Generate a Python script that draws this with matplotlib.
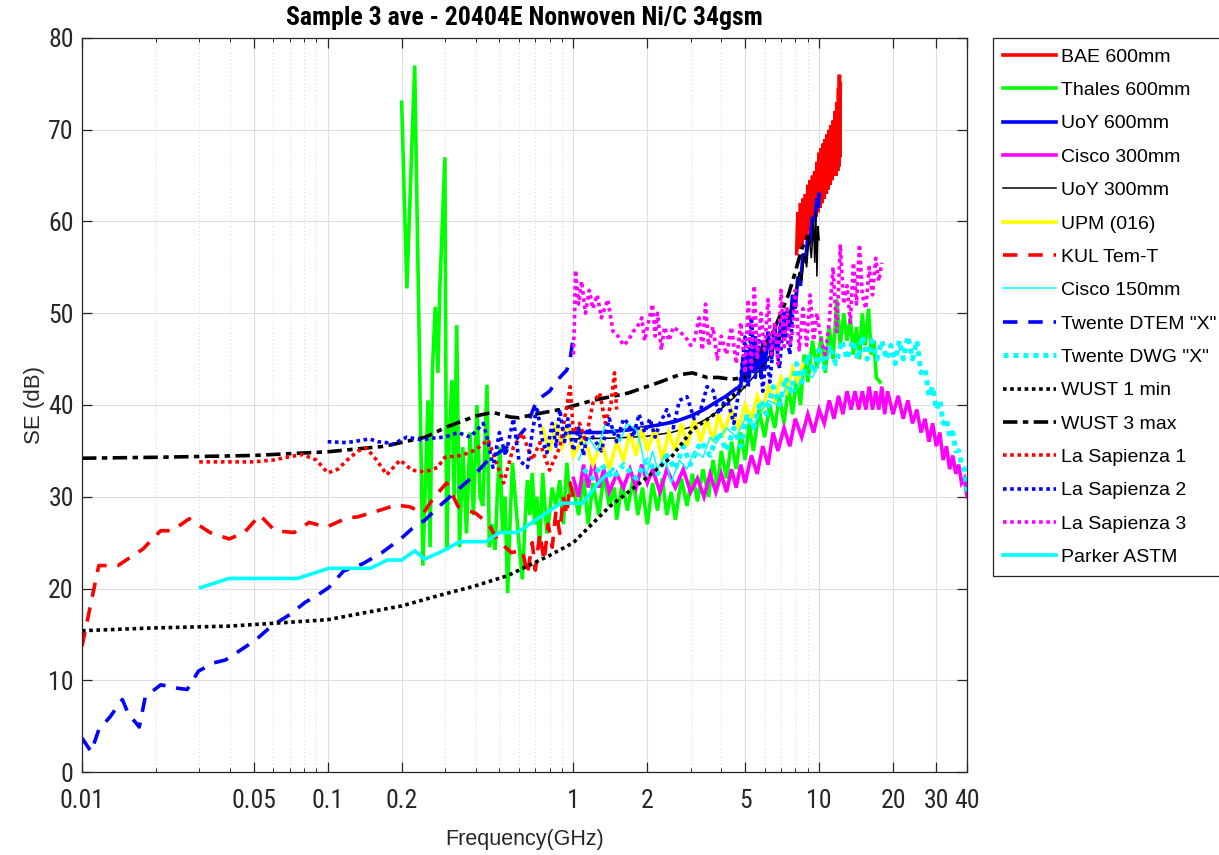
import matplotlib
matplotlib.use("Agg")
import matplotlib.pyplot as plt
from matplotlib.ticker import FixedLocator, FixedFormatter, NullFormatter

# ---- data (frequency in GHz, SE in dB) ----
bae_f = [8.1, 8.2, 8.3, 8.4, 8.5, 8.6, 8.7, 8.8, 8.9, 9.0, 9.1, 9.2, 9.3, 9.4, 9.5, 9.6,
         9.7, 9.8, 9.9, 10.0, 10.1, 10.2, 10.3, 10.4, 10.5, 10.6, 10.7, 10.8, 10.9, 11.0,
         11.1, 11.2, 11.3, 11.4, 11.5, 11.6, 11.7, 11.8, 11.9, 12.0, 12.05, 12.1, 12.15, 12.2]
bae_se = [56.5, 61, 57, 62, 57.5, 62.5, 58, 63, 58.5, 64, 59, 64.5, 59.5, 65, 60, 65.5,
          60.5, 66.5, 61, 67.5, 61.5, 68, 62, 68.5, 62.5, 69, 63, 69.5, 63.5, 70,
          64, 70.5, 64.5, 71, 65, 72, 65, 73, 65.5, 74.5, 66, 76, 67, 75]

thales_f = [0.200, 0.210, 0.226, 0.244, 0.256, 0.261, 0.267, 0.274, 0.281, 0.286, 0.300,
            0.305, 0.312, 0.320, 0.327, 0.335, 0.344, 0.355, 0.367, 0.380, 0.392, 0.405,
            0.417, 0.428, 0.445, 0.455, 0.466, 0.480, 0.490, 0.502, 0.515, 0.527, 0.540,
            0.552, 0.565, 0.587, 0.605, 0.620, 0.635, 0.650, 0.665, 0.680, 0.695, 0.710,
            0.730, 0.750, 0.780, 0.800, 0.820, 0.850, 0.880, 0.910, 0.940, 0.970, 1.00,
            1.05, 1.1, 1.15, 1.2, 1.27, 1.33, 1.4, 1.47, 1.5, 1.58, 1.66, 1.75, 1.83, 1.91,
            2.0, 2.1, 2.2, 2.3, 2.4, 2.5, 2.6, 2.75, 2.9, 3.05, 3.2, 3.37, 3.55, 3.7, 3.85,
            4.0, 4.2, 4.4, 4.6, 4.8, 5.0, 5.2, 5.4, 5.7, 6.0, 6.3, 6.6, 6.9, 7.2, 7.5, 7.8,
            8.1, 8.4, 8.7, 9.0, 9.4, 9.8, 10.2, 10.6, 11.0, 11.4, 11.8, 12.2, 12.6, 13.0,
            13.4, 13.8, 14.2, 14.6, 15.0, 15.4, 15.9, 16.3, 16.7, 17.1, 17.7]
thales_se = [73, 52.7, 77, 22.5, 40.5, 24.5, 44, 50.7, 43.5, 52.7, 67,
             24.2, 36, 42.7, 30, 48.7, 24.5, 35.4, 26, 37, 28, 40,
             30, 29, 42.2, 24.5, 27, 24.2, 30, 35.4, 26, 30, 19.5,
             27, 33.7, 28.2, 24, 21, 27, 31.8, 28, 32.6, 27, 30,
             24.5, 32.6, 26, 28.2, 31, 29, 31.8, 27, 33.7, 30, 31,
             28, 32, 27, 31.5, 28, 32.5, 29, 31, 27.5, 31.5, 28.5, 32, 28, 31,
             27, 31.5, 28.5, 32, 28, 30.5, 27.5, 32, 29, 32.5, 29.5, 33, 30, 34, 31,
             35, 32, 36, 33, 37, 34, 38, 35, 39.5, 36.5, 40, 37.5, 41, 38, 42, 39,
             43, 40, 45.5, 42.5, 47, 44, 47.5, 43.5, 48.5, 45, 51.5, 46.5, 50, 47,
             49.5, 45.5, 48.5, 45, 50, 46.5, 50.5, 45.5, 47, 43, 42.5]

uoy600_f = [1.0, 1.3, 1.7, 2.2, 2.6, 3.0, 3.4, 3.8, 4.2, 4.6, 4.8, 4.9, 5.0, 5.1, 5.2,
            5.3, 5.4, 5.5, 5.6, 5.7, 5.8, 5.9, 6.0, 6.2, 6.4, 6.6, 6.8, 7.0, 7.2, 7.4,
            7.6, 7.8, 8.0, 8.2, 8.4, 8.6, 8.8, 9.0, 9.2, 9.4, 9.6, 9.8, 9.9, 10.0]
uoy600_se = [37, 37, 37.3, 37.8, 38.2, 38.8, 39.5, 40.3, 41, 41.8, 42, 45, 42.5, 46, 43,
             47, 43.5, 47.5, 44, 46, 43, 47, 44, 48, 45, 48.5, 46, 49, 47, 50.5,
             48.5, 52, 50.5, 54, 53, 56.5, 55.5, 58.5, 58, 60.5, 60, 62.5, 61.5, 63]

cisco300_f = [1.0, 1.05, 1.1, 1.15, 1.2, 1.27, 1.33, 1.4, 1.5, 1.6, 1.7, 1.8, 1.9, 2.0,
              2.1, 2.25, 2.4, 2.6, 2.8, 3.0, 3.2, 3.4, 3.6, 3.8, 4.0, 4.2, 4.4, 4.6, 4.8,
              5.0, 5.3, 5.6, 5.9, 6.2, 6.5, 6.8, 7.2, 7.6, 8.0, 8.5, 9.0, 9.5, 10.0, 10.5,
              11, 11.5, 12, 12.5, 13, 13.5, 14, 14.5, 15, 15.5, 16, 16.5, 17, 17.5, 18,
              18.5, 19, 20, 21, 22, 23, 24, 25, 26, 27, 28, 29, 30, 31, 32, 33, 34, 35,
              36, 37, 38, 39, 40]
cisco300_se = [32, 30, 33.5, 31, 34, 31, 33, 30.5, 32.5, 31, 33, 31, 33.5, 31.5,
               33, 30.5, 33, 31, 33, 30.5, 32, 30, 32.5, 30.5, 32.5, 30.5, 33, 31, 33.5,
               31.5, 34.5, 32.5, 35.5, 33.5, 37, 35, 37.5, 35.5, 38.5, 36.5, 39, 37, 39.5, 38,
               40.5, 38.5, 41, 39, 41.5, 39.5, 41.5, 39.5, 41.5, 39.5, 42, 39.5, 41.5, 39.5, 42,
               39, 41.5, 39, 41, 38.5, 40.5, 38, 39.5, 37, 38.5, 36, 38, 35.5, 37, 34, 35.5, 33, 34.5,
               32.5, 33.5, 31.5, 32, 30]

uoy300_f = [1.0, 1.5, 2.0, 2.5, 3.0, 3.5, 4.0, 4.5, 5.0, 5.5, 6.0, 6.5, 7.0, 7.5, 8.0,
            8.3, 8.5, 8.7, 8.9, 9.1, 9.3, 9.5, 9.6, 9.7, 9.8, 9.9, 10.0]
uoy300_se = [36.3, 36.4, 36.6, 37.0, 37.6, 38.5, 39.6, 40.8, 42, 43.3, 44.5, 46, 47.5, 49.5, 52,
             54.5, 53.5, 56.5, 55, 58.5, 56, 60, 55.5, 61, 54, 59.5, 58]

upm_f = [0.75, 0.8, 0.85, 0.9, 0.95, 1.0, 1.1, 1.2, 1.3, 1.4, 1.5, 1.6, 1.7, 1.8, 1.9,
         2.0, 2.15, 2.3, 2.45, 2.6, 2.75, 2.9, 3.1, 3.3, 3.5, 3.7, 3.9, 4.1, 4.4, 4.7,
         5.0, 5.3, 5.6, 5.9, 6.2, 6.6, 7.0, 7.4, 7.8, 8.2, 8.6]
upm_se = [37.5, 35, 38, 35.5, 37.5, 34.5, 36.5, 33.5, 36, 33, 36, 34, 37, 34.5, 37.5,
          35, 37.5, 34, 37, 35, 38, 35.5, 38.5, 36, 38.5, 36, 39, 37, 39.5, 37.5,
          40, 38.5, 41, 39.5, 42, 40.5, 43, 41.5, 44, 42.5, 44.5]

kul_f = [0.0100, 0.0117, 0.0140, 0.0177, 0.0209, 0.0233, 0.0273, 0.0332, 0.0397, 0.0458,
         0.0529, 0.061, 0.073, 0.084, 0.099, 0.12, 0.132, 0.153, 0.19, 0.216, 0.245, 0.27,
         0.305, 0.34, 0.40, 0.45, 0.49, 0.56, 0.62, 0.65, 0.68, 0.70, 0.73, 0.76, 0.79,
         0.82, 0.85, 0.88, 0.91, 0.94, 0.97, 1.0]
kul_se = [13.7, 22.5, 22.5, 24.3, 26.3, 26.3, 27.6, 26.1, 25.4, 26.1,
          28, 26.3, 26.1, 27.2, 26.7, 27.7, 27.8, 28.3, 29.1, 28.9, 28.2, 29.9,
          31.5, 28.9, 28.2, 27.1, 25.3, 23.9, 24.2, 21.5, 25, 22, 26, 23, 27,
          24.5, 28.5, 26, 30, 28, 31.5, 30]

cisco150_f = [1.05, 1.15, 1.25, 1.35, 1.44, 1.55, 1.65, 1.81, 1.9, 1.98, 2.1, 2.2, 2.35,
              2.5, 2.7, 2.9, 3.1, 3.37, 3.6, 3.8, 4.2, 4.6, 5.0, 5.4, 5.7, 6.2, 6.8, 7.4,
              8.0, 8.7, 9.4, 10.0]
cisco150_se = [34, 36.5, 35, 38, 37.6, 36, 38, 37.3, 35, 32.2, 35, 33, 34.5,
               31.5, 34, 33, 35, 34.3, 36.5, 35.8, 37.5, 36.5, 38.5, 37.5, 39, 40.5, 40, 42,
               41.5, 43.5, 43, 44.5]

dtem_f = [0.0100, 0.0109, 0.0117, 0.0130, 0.0146, 0.0154, 0.0171, 0.0181, 0.0209, 0.0249,
          0.0268, 0.0298, 0.0344, 0.0383, 0.0426, 0.051, 0.059, 0.0705, 0.081, 0.09, 0.101,
          0.116, 0.139, 0.166, 0.2, 0.22, 0.25, 0.28, 0.33, 0.39, 0.45, 0.57, 0.64, 0.71,
          0.80, 0.86, 0.94, 0.97, 1.0]
dtem_se = [3.7, 2.2, 4.6, 6, 7.9, 6.4, 4.9, 8.2, 9.5, 9.1,
           9, 11, 11.9, 12.2, 13, 14.4, 15.9, 17.2, 18.5, 19.2, 20.1,
           21.9, 22.7, 23.9, 25.5, 26.5, 27.5, 28.8, 30.5, 32.2, 34, 35.9, 37.5, 40.5,
           41.5, 42.7, 43.8, 45, 47.5]

dwg_f = [1.1, 1.2, 1.3, 1.45, 1.6, 1.8, 2.0, 2.2, 2.4, 2.6, 2.8, 3.0, 3.3, 3.6, 3.9, 4.2,
         4.5, 4.8, 5.1, 5.4, 5.8, 6.1, 6.5, 6.9, 7.3, 7.7, 8.1, 8.5, 9.0, 9.5, 10, 10.5, 11,
         11.7, 12.4, 13, 13.7, 14.4, 15, 15.7, 16.4, 17.2, 18, 18.8, 19.6, 20.4, 21.2, 22,
         23, 24, 25, 26, 27, 28, 29, 30, 31, 32, 33, 34, 35, 36, 37, 38, 39, 40]
dwg_se = [33, 32, 33.5, 32, 33.5, 32, 34, 32.5, 34.5, 33, 35.5, 33.5, 36, 34.5, 37, 35,
          37.5, 35.5, 39, 37.5, 40.5, 39, 42, 40, 43, 41.5, 44.5, 42.5, 45.5, 43.5, 46, 44, 46.5,
          44.5, 47, 45, 47, 45, 47.5, 45, 47, 45, 47, 45, 46.5, 44.5, 47, 45,
          47.5, 45, 47, 43.5, 44, 41, 42, 39.5, 40.5, 38, 38.5, 36.5, 37, 35, 35, 33.5, 33, 30.5]

wust1_f = [0.01, 0.0194, 0.0397, 0.068, 0.1, 0.144, 0.2, 0.28, 0.4, 0.54, 0.8, 1.0, 1.4,
           1.93, 2.5, 3.05, 3.8, 4.4, 5.0]
wust1_se = [15.4, 15.7, 15.9, 16.3, 16.6, 17.4, 18.1, 19.2, 20.3, 21.4, 23.6, 25, 28.9,
            31.8, 34.3, 37.3, 39.1, 40.9, 42]

wust3_f = [0.01, 0.02, 0.05, 0.1, 0.17, 0.25, 0.305, 0.4, 0.47, 0.55, 0.6, 0.7, 0.88, 1.2,
           1.67, 2.25, 2.7, 3.05, 3.5, 3.9, 4.4, 5.0, 5.5, 6.0, 6.5, 7.0, 7.5, 8.0, 8.5, 9.0]
wust3_se = [34.2, 34.3, 34.5, 34.9, 35.5, 36.5, 37.6, 38.8, 39.2, 38.7, 38.6, 39, 39.5, 40.5,
            41.3, 42.5, 43.3, 43.5, 43, 43, 42.8, 43, 45, 46.5, 48, 50, 52, 54.5, 57, 58.5]

ls1_f = [0.030, 0.040, 0.050, 0.060, 0.068, 0.079, 0.090, 0.100, 0.110, 0.120, 0.133, 0.144,
         0.158, 0.174, 0.197, 0.220, 0.250, 0.280, 0.30, 0.35, 0.40, 0.45, 0.52, 0.57, 0.62,
         0.68, 0.73, 0.8, 0.88, 0.97, 1.0, 1.06, 1.12, 1.2, 1.28, 1.35, 1.42, 1.47, 1.5]
ls1_se = [33.8, 33.8, 33.8, 34, 34.3, 34.6, 34, 32.6, 33, 34, 35, 35.3,
          34, 32.4, 34, 32.9, 32.7, 33.2, 34.3, 34.5, 35.1, 36.2, 31.5, 35.4, 36.9,
          34, 35.9, 32.9, 35.4, 42, 37, 38, 36, 40.2, 41.3, 38, 40, 43.5, 39.5]

ls2_f = [0.100, 0.120, 0.148, 0.160, 0.174, 0.180, 0.21, 0.24, 0.27, 0.30, 0.34, 0.38, 0.43,
         0.45, 0.47, 0.5, 0.53, 0.57, 0.6, 0.65, 0.68, 0.71, 0.75, 0.78, 0.82, 0.85, 0.88,
         0.92, 0.95, 1.0, 1.05, 1.1, 1.15, 1.2, 1.3, 1.4, 1.5, 1.6, 1.67, 1.75, 1.85, 1.95,
         2.05, 2.15, 2.25, 2.4, 2.55, 2.7, 2.9, 3.1, 3.3, 3.5, 3.7, 3.9, 4.2, 4.5, 4.8, 5.0,
         5.15, 5.3, 5.5, 5.7, 5.9, 6.1, 6.3, 6.6, 6.9, 7.2, 7.6, 7.9]
ls2_se = [36, 35.9, 36.3, 36, 35.9, 35.6, 36.5, 36.2, 36.4, 36.5, 37, 36.5, 38,
          36, 33.2, 37, 34.5, 38.5, 34, 33.2, 37, 39.8, 36, 34.8, 38, 35.5, 39.5,
          36, 38.5, 35, 37.5, 34.5, 37.5, 36.5, 35, 38.5, 36, 38.5, 38, 36.5, 39, 37,
          38.5, 36.5, 38, 39.5, 37.5, 40.5, 40.9, 38.5, 39.5, 42, 41.6, 39, 40.9, 38, 43, 47.4,
          42, 49.6, 43, 47, 41.5, 46, 42.5, 48, 44, 50, 45.5, 52]

ls3_f = [1.0, 1.01, 1.02, 1.05, 1.08, 1.12, 1.16, 1.2, 1.25, 1.3, 1.38, 1.45, 1.52, 1.6,
         1.67, 1.75, 1.82, 1.9, 1.95, 2.0, 2.1, 2.15, 2.2, 2.28, 2.35, 2.45, 2.55, 2.7,
         2.85, 3.0, 3.1, 3.25, 3.35, 3.45, 3.55, 3.7, 3.85, 4.0, 4.2, 4.4, 4.6, 4.8, 5.0,
         5.15, 5.3, 5.45, 5.6, 5.8, 6.0, 6.2, 6.4, 6.6, 6.8, 7.0, 7.2, 7.4, 7.6, 7.8, 8.0,
         8.3, 8.6, 8.9, 9.2, 9.5, 9.8, 10.2, 10.6, 11.0, 11.4, 11.8, 12.2, 12.6, 13.0,
         13.4, 13.8, 14.2, 14.6, 15.0, 15.5, 16.0, 16.5, 17.0, 17.5, 18.0]
ls3_se = [45.5, 49, 54.7, 51, 53.5, 50, 52.5, 50.5, 52, 49.5, 51.5, 48, 47.5, 46.5,
          47, 48, 48.5, 49.5, 47, 48.5, 51, 47.5, 50, 46, 48.5, 47, 48.5, 48,
          47.5, 46.5, 47, 49.5, 46, 51, 46.5, 48.5, 45, 47.5, 45.5, 48.5, 44.5, 49, 43.5,
          51.5, 44, 53, 45, 50, 46, 51.5, 45.5, 49, 44.5, 52.5, 46, 50.5, 46.5, 48, 52.5,
          46, 50.5, 46.5, 52, 47, 50, 47, 45.5, 49, 55, 48, 57.5, 51, 53,
          49, 55.5, 51, 57.5, 52, 50.5, 55, 52, 56, 53.5, 55.5]

parker_f = [0.0304, 0.0397, 0.0756, 0.101, 0.149, 0.175, 0.2, 0.226, 0.248, 0.295, 0.345,
            0.44, 0.5, 0.59, 0.89, 1.09, 1.29, 1.45]
parker_se = [20.1, 21.1, 21.1, 22.2, 22.2, 23.1, 23.1, 24.1, 23.2, 24.1, 25.1,
             25.1, 26.1, 26.1, 29.3, 29.3, 31.8, 33]

labels = ["BAE 600mm", "Thales 600mm", "UoY 600mm", "Cisco 300mm", "UoY 300mm",
          "UPM (016)", "KUL Tem-T", "Cisco 150mm", 'Twente DTEM "X"', 'Twente DWG "X"',
          "WUST 1 min", "WUST 3 max", "La Sapienza 1", "La Sapienza 2", "La Sapienza 3",
          "Parker ASTM"]

x_major = [0.01, 0.05, 0.1, 0.2, 1, 2, 5, 10, 20, 30, 40]
x_major_lbl = ["0.01", "0.05", "0.1", "0.2", "1", "2", "5", "10", "20", "30", "40"]
x_minor = [0.02, 0.03, 0.04, 0.06, 0.07, 0.08, 0.09, 0.3, 0.4, 0.5, 0.6, 0.7, 0.8, 0.9,
           3, 4, 6, 7, 8, 9]
y_ticks = [0, 10, 20, 30, 40, 50, 60, 70, 80]

# ---- styling ----
narrow = ["Roboto Condensed", "Liberation Sans Narrow", "Liberation Sans", "DejaVu Sans"]
regular = ["Liberation Sans", "DejaVu Sans"]
axcol = "#262626"
thick = 2.6
thin = 1.1

fig = plt.figure(figsize=(12.19, 8.55), dpi=100)
ax = fig.add_axes([82 / 1219, 1 - 772 / 855, 885 / 1219, 734 / 855])

series = [
    (bae_f, bae_se, dict(color="#ff0000", lw=thick, ls="-")),
    (thales_f, thales_se, dict(color="#00ff00", lw=thick, ls="-")),
    (uoy600_f, uoy600_se, dict(color="#0000ff", lw=thick, ls="-")),
    (cisco300_f, cisco300_se, dict(color="#ff00ff", lw=thick, ls="-")),
    (uoy300_f, uoy300_se, dict(color="black", lw=thin, ls="-")),
    (upm_f, upm_se, dict(color="#ffff00", lw=thick, ls="-")),
    (kul_f, kul_se, dict(color="#ff0000", lw=thick, ls=(0, (4, 3)))),
    (cisco150_f, cisco150_se, dict(color="#00ffff", lw=thin, ls="-")),
    (dtem_f, dtem_se, dict(color="#0000ff", lw=thick, ls=(0, (4, 3)))),
    (dwg_f, dwg_se, dict(color="#00ffff", lw=thick + 1, ls=(0, (1, 1)))),
    (wust1_f, wust1_se, dict(color="black", lw=thick, ls=(0, (1, 1)))),
    (wust3_f, wust3_se, dict(color="black", lw=thick, ls=(0, (4, 1.5, 1.5, 1.5)))),
    (ls1_f, ls1_se, dict(color="#ff0000", lw=thick, ls=(0, (1, 1)))),
    (ls2_f, ls2_se, dict(color="#0000ff", lw=thick, ls=(0, (1, 1)))),
    (ls3_f, ls3_se, dict(color="#ff00ff", lw=thick, ls=(0, (1, 1)))),
    (parker_f, parker_se, dict(color="#00ffff", lw=thick, ls="-")),
]
handles = []
for (f, se, st), lab in zip(series, labels):
    h, = ax.plot(f, se, label=lab, solid_joinstyle="miter", **st)
    handles.append(h)

ax.set_xscale("log")
ax.set_xlim(0.01, 40)
ax.set_ylim(0, 80)
ax.xaxis.set_major_locator(FixedLocator(x_major))
ax.xaxis.set_major_formatter(FixedFormatter(x_major_lbl))
ax.xaxis.set_minor_locator(FixedLocator(x_minor))
ax.xaxis.set_minor_formatter(NullFormatter())
ax.set_yticks(y_ticks)

ax.grid(True, which="major", color="#dedede", lw=0.8, ls="-")
ax.grid(True, which="minor", axis="x", color="#d0d0d0", lw=0.7, ls=(0, (1, 3)))
ax.set_axisbelow(True)

for sp in ax.spines.values():
    sp.set_color(axcol)
    sp.set_linewidth(0.9)
ax.tick_params(which="both", direction="in", top=True, right=True, colors=axcol)
ax.tick_params(which="major", length=7, width=0.9)
ax.tick_params(which="minor", length=3, width=0.7)
ax.tick_params(axis="x", which="major", pad=12)
ax.tick_params(axis="y", which="major", pad=6)
for t in ax.get_xticklabels() + ax.get_yticklabels():
    t.set_fontfamily(narrow)
    t.set_fontsize(18.5)
    t.set_color(axcol)

ax.set_xlabel("Frequency(GHz)", fontsize=15.5, family=regular, color=axcol, labelpad=12)
ax.set_ylabel("SE (dB)", fontsize=16, family=regular, color=axcol, labelpad=2)
ax.set_title("Sample 3 ave - 20404E Nonwoven Ni/C 34gsm", fontsize=18.5, family=narrow,
             fontweight="bold", color="black", pad=9)

leg = fig.legend(handles=handles, loc="upper left", bbox_to_anchor=(993 / 1219, 1 - 38 / 855),
                 bbox_transform=fig.transFigure, borderaxespad=0, frameon=True, fancybox=False,
                 edgecolor=axcol, framealpha=1, prop={"family": regular, "size": 14},
                 handlelength=2.7, handletextpad=0.3,
                 labelspacing=0.81, borderpad=0.52)
leg.get_frame().set_linewidth(0.9)

fig.savefig("out.png", dpi=100)
